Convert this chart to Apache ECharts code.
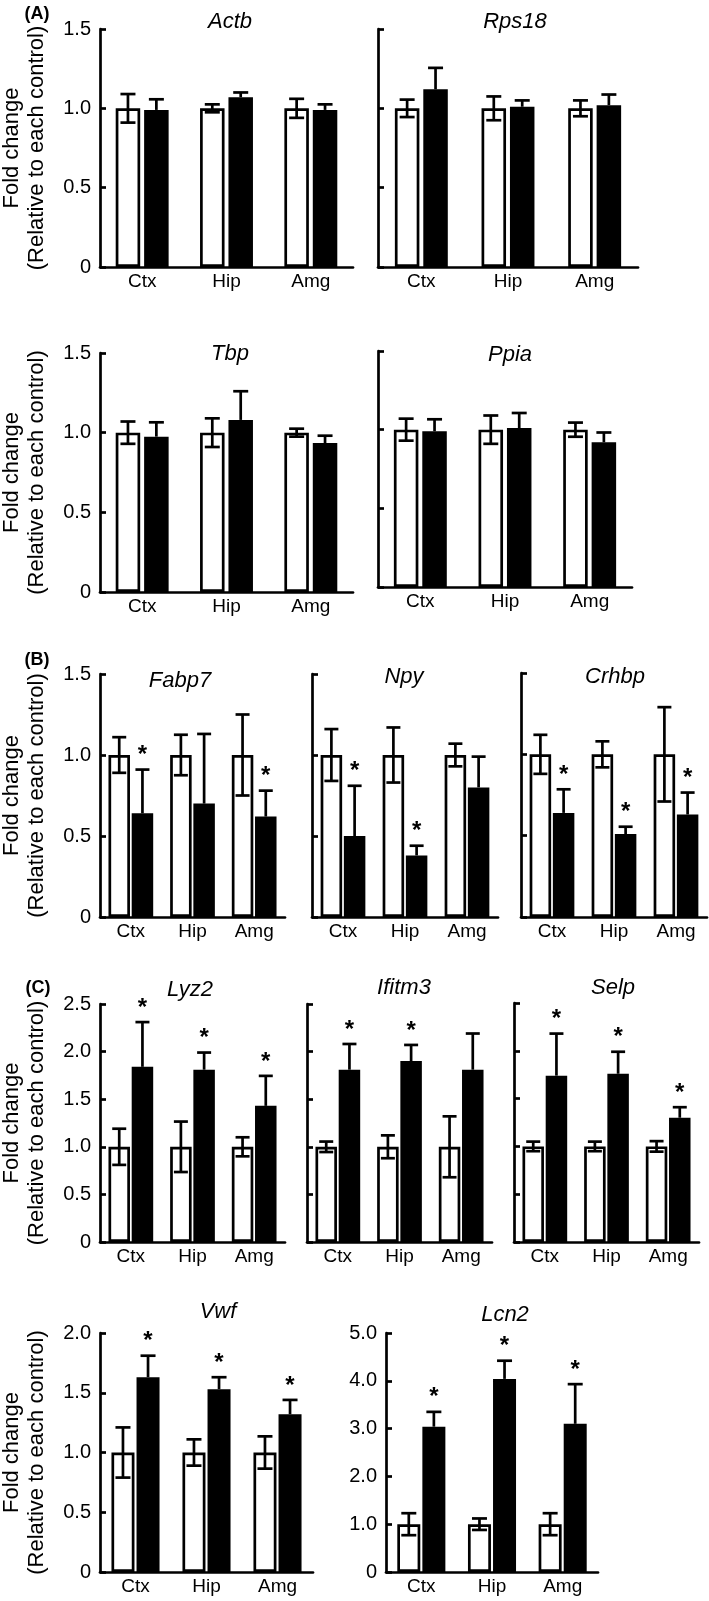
<!DOCTYPE html>
<html><head><meta charset="utf-8">
<script src="https://cdn.jsdelivr.net/npm/echarts/dist/echarts.min.js"></script>
<style>html,body{margin:0;padding:0;background:#fff}#c{width:709px;height:1601px}</style>
</head><body><div id="c"></div>
<script>
// ---------- DATA ----------
const regions = ['Ctx', 'Hip', 'Amg'];
const ticks15 = ['0', '0.5', '1.0', '1.5'];
const ticks20 = ['0', '0.5', '1.0', '1.5', '2.0'];
const ticks25 = ['0', '0.5', '1.0', '1.5', '2.0', '2.5'];
const ticks50 = ['0', '1.0', '2.0', '3.0', '4.0', '5.0'];

const actbCtrl = [1.00, 1.00, 1.00];
const actbCtrlErr = [0.09, 0.025, 0.06];
const actbTreat = [0.99, 1.07, 0.99];
const actbTreatErr = [0.067, 0.03, 0.035];
const actbStars = [0, 0, 0];

const rps18Ctrl = [1.00, 1.00, 1.00];
const rps18CtrlErr = [0.055, 0.075, 0.05];
const rps18Treat = [1.12, 1.01, 1.02];
const rps18TreatErr = [0.135, 0.04, 0.067];
const rps18Stars = [0, 0, 0];

const tbpCtrl = [1.00, 1.00, 1.00];
const tbpCtrlErr = [0.07, 0.09, 0.025];
const tbpTreat = [0.975, 1.08, 0.935];
const tbpTreatErr = [0.09, 0.18, 0.046];
const tbpStars = [0, 0, 0];

const ppiaCtrl = [1.00, 1.00, 1.00];
const ppiaCtrlErr = [0.07, 0.09, 0.045];
const ppiaTreat = [0.99, 1.01, 0.92];
const ppiaTreatErr = [0.076, 0.096, 0.062];
const ppiaStars = [0, 0, 0];

const fabp7Ctrl = [1.00, 1.00, 1.00];
const fabp7CtrlErr = [0.11, 0.125, 0.25];
const fabp7Treat = [0.64, 0.70, 0.62];
const fabp7TreatErr = [0.27, 0.43, 0.16];
const fabp7Stars = [1, 0, 1];

const npyCtrl = [1.00, 1.00, 1.00];
const npyCtrlErr = [0.16, 0.17, 0.07];
const npyTreat = [0.50, 0.38, 0.80];
const npyTreatErr = [0.31, 0.06, 0.19];
const npyStars = [1, 1, 0];

const crhbpCtrl = [1.00, 1.00, 1.00];
const crhbpCtrlErr = [0.12, 0.08, 0.29];
const crhbpTreat = [0.64, 0.51, 0.63];
const crhbpTreatErr = [0.145, 0.045, 0.135];
const crhbpStars = [1, 1, 1];

const lyz2Ctrl = [1.00, 1.00, 1.00];
const lyz2CtrlErr = [0.19, 0.265, 0.10];
const lyz2Treat = [1.84, 1.81, 1.43];
const lyz2TreatErr = [0.47, 0.18, 0.315];
const lyz2Stars = [1, 1, 1];

const ifitm3Ctrl = [1.00, 1.00, 1.00];
const ifitm3CtrlErr = [0.055, 0.12, 0.32];
const ifitm3Treat = [1.81, 1.90, 1.81];
const ifitm3TreatErr = [0.27, 0.17, 0.38];
const ifitm3Stars = [1, 1, 0];

const selpCtrl = [1.00, 1.00, 1.00];
const selpCtrlErr = [0.05, 0.05, 0.055];
const selpTreat = [1.74, 1.76, 1.30];
const selpTreatErr = [0.44, 0.23, 0.11];
const selpStars = [1, 1, 1];

const vwfCtrl = [1.00, 1.00, 1.00];
const vwfCtrlErr = [0.21, 0.11, 0.135];
const vwfTreat = [1.63, 1.53, 1.32];
const vwfTreatErr = [0.18, 0.10, 0.12];
const vwfStars = [1, 1, 1];

const lcn2Ctrl = [1.00, 1.00, 1.00];
const lcn2CtrlErr = [0.23, 0.12, 0.23];
const lcn2Treat = [3.04, 4.04, 3.10];
const lcn2TreatErr = [0.31, 0.38, 0.83];
const lcn2Stars = [1, 1, 1];

// ---------- LAYOUT / STYLE ----------
const FONT = '"Liberation Sans", Arial, Helvetica, sans-serif';
const LW = 2.7;
const panels = [
  {gene:'Actb', d:[actbCtrl,actbCtrlErr,actbTreat,actbTreatErr,actbStars], g:[100,29,253,238], max:1.5, itv:0.5, ticks:ticks15, lab:true, name:true, bw:24.5, gap:16, cap:15, t:[230,22]},
  {gene:'Rps18', d:[rps18Ctrl,rps18CtrlErr,rps18Treat,rps18TreatErr,rps18Stars], g:[378,29,260,238], max:1.5, itv:0.5, ticks:ticks15, lab:false, name:false, bw:24.5, gap:16, cap:15, t:[515,22]},
  {gene:'Tbp', d:[tbpCtrl,tbpCtrlErr,tbpTreat,tbpTreatErr,tbpStars], g:[100,353,253,239], max:1.5, itv:0.5, ticks:ticks15, lab:true, name:true, bw:24.5, gap:16, cap:15, t:[230,354]},
  {gene:'Ppia', d:[ppiaCtrl,ppiaCtrlErr,ppiaTreat,ppiaTreatErr,ppiaStars], g:[378,351,254,236], max:1.5, itv:0.5, ticks:ticks15, lab:false, name:false, bw:24.5, gap:16, cap:15, t:[510,355]},
  {gene:'Fabp7', d:[fabp7Ctrl,fabp7CtrlErr,fabp7Treat,fabp7TreatErr,fabp7Stars], g:[100,674,185,243], max:1.5, itv:0.5, ticks:ticks15, lab:true, name:true, bw:21.5, gap:8, cap:14, t:[180,681]},
  {gene:'Npy', d:[npyCtrl,npyCtrlErr,npyTreat,npyTreatErr,npyStars], g:[312,674,186,243], max:1.5, itv:0.5, ticks:ticks15, lab:false, name:false, bw:21.5, gap:8, cap:14, t:[404,677]},
  {gene:'Crhbp', d:[crhbpCtrl,crhbpCtrlErr,crhbpTreat,crhbpTreatErr,crhbpStars], g:[521,673,186,244], max:1.5, itv:0.5, ticks:ticks15, lab:false, name:false, bw:21.5, gap:8, cap:14, t:[615,677]},
  {gene:'Lyz2', d:[lyz2Ctrl,lyz2CtrlErr,lyz2Treat,lyz2TreatErr,lyz2Stars], g:[100,1004,185,238], max:2.5, itv:0.5, ticks:ticks25, lab:true, name:true, bw:21.5, gap:8, cap:14, t:[190,990]},
  {gene:'Ifitm3', d:[ifitm3Ctrl,ifitm3CtrlErr,ifitm3Treat,ifitm3TreatErr,ifitm3Stars], g:[307,1004,185,238], max:2.5, itv:0.5, ticks:ticks25, lab:false, name:false, bw:21.5, gap:8, cap:14, t:[404,988]},
  {gene:'Selp', d:[selpCtrl,selpCtrlErr,selpTreat,selpTreatErr,selpStars], g:[514,1003,185,239], max:2.5, itv:0.5, ticks:ticks25, lab:false, name:false, bw:21.5, gap:8, cap:14, t:[613,988]},
  {gene:'Vwf', d:[vwfCtrl,vwfCtrlErr,vwfTreat,vwfTreatErr,vwfStars], g:[100,1333,213,239], max:2.0, itv:0.5, ticks:ticks20, lab:true, name:true, bw:23, gap:9, cap:15, t:[218,1312]},
  {gene:'Lcn2', d:[lcn2Ctrl,lcn2CtrlErr,lcn2Treat,lcn2TreatErr,lcn2Stars], g:[386,1333,212,239], max:5.0, itv:1.0, ticks:ticks50, lab:true, name:false, bw:23, gap:9, cap:15, t:[505,1315]}
];
const panelLabels = [['(A)',37,14],['(B)',37,660],['(C)',38,988]];

const grid = [], xAxis = [], yAxis = [], series = [], title = [];
panels.forEach((p, k) => {
  grid.push({left:p.g[0], top:p.g[1], width:p.g[2], height:p.g[3], containLabel:false, outerBoundsMode:'none'});
  xAxis.push({
    type:'category', gridIndex:k, data:regions, boundaryGap:true,
    axisLine:{show:true, lineStyle:{color:'#000', width:LW}},
    axisTick:{show:false},
    axisLabel:{color:'#000', fontSize:19, fontFamily:FONT, margin:5}
  });
  yAxis.push({
    type:'value', gridIndex:k, min:0, max:p.max, interval:p.itv,
    axisLine:{show:true, lineStyle:{color:'#000', width:LW}},
    axisTick:{show:true, inside:true, length:6, lineStyle:{color:'#000', width:LW}},
    splitLine:{show:false},
    axisLabel:{show:p.lab, color:'#000', fontSize:20, fontFamily:FONT, margin:9,
      formatter: (v => p.ticks[Math.round(v / p.itv)])},
    name: p.name ? 'Fold change\n(Relative to each control)' : '',
    nameLocation:'middle', nameRotate:90, nameGap:51,
    nameTextStyle:{color:'#000', fontSize:22, fontFamily:FONT, lineHeight:25}
  });
  const [ctrl, ctrlErr, treat, treatErr, stars] = p.d;
  series.push({type:'bar', xAxisIndex:k, yAxisIndex:k, data:ctrl, barWidth:p.bw, barGap:p.gap + '%',
    itemStyle:{color:'#fff', borderColor:'#000', borderWidth:LW}, silent:true, z:2});
  series.push({type:'bar', xAxisIndex:k, yAxisIndex:k, data:treat, barWidth:p.bw, barGap:p.gap + '%',
    itemStyle:{color:'#000', borderColor:'#000', borderWidth:LW}, silent:true, z:2});
  const sep = p.bw * (1 + p.gap / 100);
  series.push({
    type:'custom', xAxisIndex:k, yAxisIndex:k, clip:false, z:5, silent:true,
    data: regions.map((r, i) => [i, ctrl[i], ctrlErr[i], treat[i], treatErr[i], stars[i]]),
    encode:{x:0, y:1},
    renderItem: function (params, api) {
      const i = api.value(0), c = api.value(1), ce = api.value(2), t = api.value(3), te = api.value(4), s = api.value(5);
      const cx = api.coord([i, 0])[0];
      const xa = cx - sep / 2, xb = cx + sep / 2;
      const Y = v => api.coord([i, v])[1];
      const cw = p.cap / 2;
      const ls = {stroke:'#000', lineWidth:LW};
      const ch = [
        {type:'line', shape:{x1:xa, y1:Y(c - ce), x2:xa, y2:Y(c + ce)}, style:ls},
        {type:'line', shape:{x1:xa - cw, y1:Y(c + ce), x2:xa + cw, y2:Y(c + ce)}, style:ls},
        {type:'line', shape:{x1:xa - cw, y1:Y(c - ce), x2:xa + cw, y2:Y(c - ce)}, style:ls},
        {type:'line', shape:{x1:xb, y1:Y(t), x2:xb, y2:Y(t + te)}, style:ls},
        {type:'line', shape:{x1:xb - cw, y1:Y(t + te), x2:xb + cw, y2:Y(t + te)}, style:ls}
      ];
      if (s) {
        ch.push({type:'text', x:xb, y:Y(t + te) - 14,
          style:{text:'*', font:'bold 24px ' + FONT, fill:'#000', align:'center', verticalAlign:'middle'}});
      }
      return {type:'group', children:ch};
    }
  });
  title.push({text:p.gene, left:p.t[0], top:p.t[1], textAlign:'center', textVerticalAlign:'middle', padding:0,
    textStyle:{fontStyle:'italic', fontWeight:'normal', fontSize:22, fontFamily:FONT, color:'#000'}});
});
panelLabels.forEach(l => {
  title.push({text:l[0], left:l[1], top:l[2], textAlign:'center', textVerticalAlign:'middle', padding:0,
    textStyle:{fontWeight:'bold', fontSize:18, fontFamily:FONT, color:'#000'}});
});

const chart = echarts.init(document.getElementById('c'), null, {renderer:'canvas'});
chart.setOption({animation:false, backgroundColor:'#fff', title, grid, xAxis, yAxis, series});
</script></body></html>
